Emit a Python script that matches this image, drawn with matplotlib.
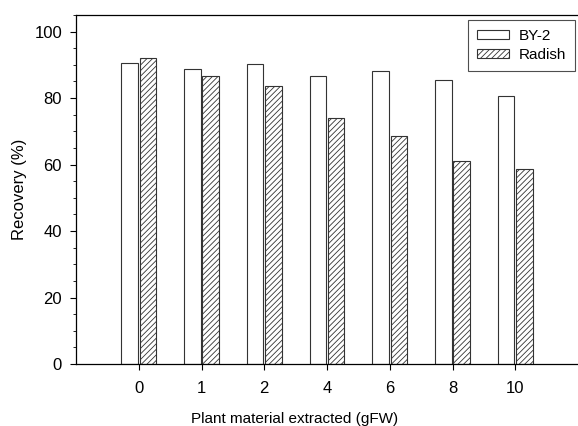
import numpy as np
import matplotlib.pyplot as plt
from matplotlib.ticker import MultipleLocator

plt.rcParams['font.family'] = ['Liberation Sans', 'DejaVu Sans']
plt.rcParams['hatch.linewidth'] = 0.6

# Data
amounts = ['0', '1', '2', '4', '6', '8', '10']
by2 = [90.7, 88.8, 90.3, 86.7, 88.2, 85.5, 80.7]
radish = [92.2, 86.7, 83.7, 74.1, 68.7, 61.1, 58.7]

x = np.arange(len(amounts))
width = 0.26

fig = plt.figure(figsize=(5.78, 4.26), dpi=100)
ax = fig.add_axes([76 / 578, 1 - 364 / 426, 1 - 76 / 578, (364 - 15) / 426])

ax.bar(x - 0.145, by2, width, color='white', edgecolor='#333333',
       linewidth=0.8, label='BY-2')
ax.bar(x + 0.145, radish, width, color='white', edgecolor='#333333',
       linewidth=0.8, hatch='//////', label='Radish')

ax.set_xlim(-1, 7)
ax.set_ylim(0, 105)
ax.set_xticks(x)
ax.set_xticklabels(amounts)
ax.set_yticks(np.arange(0, 101, 20))
ax.yaxis.set_minor_locator(MultipleLocator(5))

ax.tick_params(axis='both', which='major', labelsize=12, direction='out',
               length=4, width=0.8)
ax.tick_params(axis='y', which='major', pad=6)
ax.tick_params(axis='x', which='major', pad=8)
ax.tick_params(axis='y', which='minor', direction='out', length=2, width=0.6)

ax.spines['right'].set_visible(False)
for s in ['left', 'bottom', 'top']:
    ax.spines[s].set_linewidth(0.9)

ax.set_ylabel('Recovery (%)', fontsize=12)
ax.yaxis.set_label_coords(-0.097, 0.5)
ax.set_xlabel('Plant material extracted (gFW)', fontsize=11)
ax.xaxis.set_label_coords(0.435, -0.137)

leg = ax.legend(loc='upper right', fontsize=11, frameon=True, fancybox=False,
                edgecolor='#222222', handlelength=2.1, handleheight=0.55,
                handletextpad=0.6, borderpad=0.6, labelspacing=0.3,
                borderaxespad=0, bbox_to_anchor=(0.994, 0.986))
leg.get_frame().set_linewidth(0.8)

fig.savefig('out.png', dpi=100)
